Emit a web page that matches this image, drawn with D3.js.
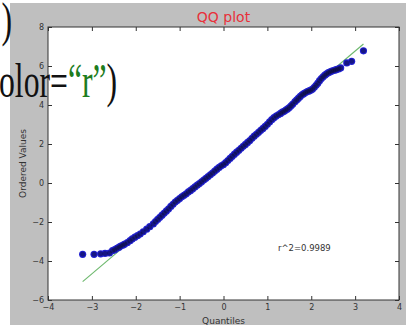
<!DOCTYPE html>
<html>
<head>
<meta charset="utf-8">
<script src="https://cdn.jsdelivr.net/npm/d3@7"></script>
<style>
  html, body { margin: 0; padding: 0; background: #fff; }
  svg { display: block; }
</style>
</head>
<body>
<svg id="chart" width="406" height="325"></svg>
<script>
// ---- data ----
const title = "QQ plot";
const xLabel = "Quantiles";
const yLabel = "Ordered Values";
const rSquaredText = "r^2=0.9989";
const rSquaredPos = [1.24, -3.5];

const xTicks = [-4, -3, -2, -1, 0, 1, 2, 3, 4];
const yTicks = [-6, -4, -2, 0, 2, 4, 6, 8];

// theoretical quantiles (x) and ordered sample values (y)
const quantiles = [
  -3.21, -2.95, -2.80, -2.70, -2.60, -2.53, -2.48, -2.43, -2.38, -2.34,
  -2.29, -2.25, -2.19, -2.13, -2.08, -2.02, -1.96, -1.90, -1.83, -1.75,
  -1.68, -1.60, -1.55, -1.50, -1.45, -1.40, -1.35, -1.30, -1.25, -1.20,
  -1.15, -1.10, -1.05, -1.00, -0.95, -0.90, -0.85, -0.80, -0.75, -0.70,
  -0.65, -0.60, -0.55, -0.50, -0.45, -0.40, -0.35, -0.30, -0.25, -0.20,
  -0.15, -0.10, -0.05, 0.00, 0.05, 0.10, 0.15, 0.20, 0.25, 0.30,
  0.35, 0.40, 0.45, 0.50, 0.55, 0.60, 0.65, 0.70, 0.75, 0.80,
  0.85, 0.90, 0.95, 1.00, 1.05, 1.10, 1.15, 1.20, 1.25, 1.30,
  1.34, 1.38, 1.42, 1.46, 1.50, 1.54, 1.58, 1.63, 1.67, 1.71,
  1.75, 1.79, 1.83, 1.87, 1.91, 1.95, 1.99, 2.03, 2.07, 2.11,
  2.15, 2.19, 2.23, 2.27, 2.31, 2.35, 2.39, 2.43, 2.47, 2.51,
  2.55, 2.59, 2.63, 2.67, 2.81, 2.92, 3.19
];
const orderedValues = [
  -3.66, -3.66, -3.63, -3.61, -3.59, -3.47, -3.42, -3.35, -3.29, -3.23,
  -3.18, -3.13, -3.05, -2.96, -2.87, -2.78, -2.70, -2.62, -2.50, -2.37,
  -2.24, -2.10, -1.98, -1.87, -1.76, -1.65, -1.54, -1.43, -1.32, -1.20,
  -1.09, -0.98, -0.89, -0.80, -0.71, -0.63, -0.55, -0.46, -0.38, -0.29,
  -0.20, -0.11, -0.03, 0.06, 0.15, 0.24, 0.33, 0.42, 0.51, 0.61,
  0.71, 0.80, 0.88, 0.95, 1.04, 1.15, 1.26, 1.37, 1.48, 1.58,
  1.68, 1.78, 1.88, 1.98, 2.08, 2.18, 2.29, 2.40, 2.50, 2.60,
  2.70, 2.80, 2.90, 3.01, 3.13, 3.25, 3.35, 3.43, 3.50, 3.57,
  3.63, 3.68, 3.74, 3.80, 3.87, 3.96, 4.05, 4.17, 4.26, 4.35,
  4.44, 4.52, 4.58, 4.64, 4.69, 4.72, 4.76, 4.82, 4.91, 5.01,
  5.12, 5.25, 5.36, 5.45, 5.53, 5.60, 5.66, 5.70, 5.74, 5.77,
  5.80, 5.83, 5.86, 5.90, 6.16, 6.24, 6.78
];

// least-squares fit line endpoints
const fitX = [-3.21, 3.19];
const fitY = [-5.06, 7.13];

// ---- drawing ----
const svg = d3.select("#chart");
const W = 406, H = 325;

// gray figure background (screenshot frame)
svg.append("rect").attr("x", 10).attr("y", 3).attr("width", W - 10).attr("height", H - 3)
  .attr("fill", "#bfbfbf");

const plot = { left: 48, right: 399, top: 27, bottom: 300 };
const x = d3.scaleLinear().domain([-4, 4]).range([plot.left, plot.right]);
const y = d3.scaleLinear().domain([-6, 8]).range([plot.bottom, plot.top]);

svg.append("rect").attr("x", plot.left).attr("y", plot.top)
  .attr("width", plot.right - plot.left).attr("height", plot.bottom - plot.top)
  .attr("fill", "#fff");

const tickFont = "'DejaVu Sans', sans-serif";

function styleAxis(g, showLabels) {
  g.selectAll(".domain").remove();
  g.selectAll(".tick line").attr("stroke", "#333").attr("stroke-width", 1);
  g.selectAll(".tick text").attr("fill", "#333").attr("font-size", 8)
    .attr("font-family", tickFont);
  if (!showLabels) g.selectAll(".tick text").remove();
}

svg.append("g").attr("transform", `translate(0,${plot.bottom})`)
  .call(d3.axisBottom(x).tickValues(xTicks).tickSizeInner(-4).tickSizeOuter(0).tickPadding(4))
  .call(g => styleAxis(g, true));
svg.append("g").attr("transform", `translate(0,${plot.top})`)
  .call(d3.axisTop(x).tickValues(xTicks).tickSizeInner(-4).tickSizeOuter(0))
  .call(g => styleAxis(g, false));
svg.append("g").attr("transform", `translate(${plot.left},0)`)
  .call(d3.axisLeft(y).tickValues(yTicks).tickSizeInner(-4).tickSizeOuter(0).tickPadding(4))
  .call(g => styleAxis(g, true));
svg.append("g").attr("transform", `translate(${plot.right},0)`)
  .call(d3.axisRight(y).tickValues(yTicks).tickSizeInner(-4).tickSizeOuter(0))
  .call(g => styleAxis(g, false));

// fit line (under the markers)
svg.append("line")
  .attr("x1", x(fitX[0])).attr("y1", y(fitY[0]))
  .attr("x2", x(fitX[1])).attr("y2", y(fitY[1]))
  .attr("stroke", "#6cb86c").attr("stroke-width", 1.1);

// points: blue markers, with dark cores where they pile up
const pts = quantiles.map((q, i) => ({ q, v: orderedValues[i] }));
svg.append("g").selectAll("circle").data(pts).join("circle")
  .attr("cx", d => x(d.q)).attr("cy", d => y(d.v)).attr("r", 3.6)
  .attr("fill", "#2020d0");
svg.append("g").selectAll("circle").data(pts).join("circle")
  .attr("cx", d => x(d.q)).attr("cy", d => y(d.v)).attr("r", 2.5)
  .attr("fill", "#0a0c28").attr("fill-opacity", 0.45);

// frame
svg.append("rect").attr("x", plot.left).attr("y", plot.top)
  .attr("width", plot.right - plot.left).attr("height", plot.bottom - plot.top)
  .attr("fill", "none").attr("stroke", "#333").attr("stroke-width", 1);

// r^2 annotation
svg.append("text").attr("x", x(rSquaredPos[0])).attr("y", y(rSquaredPos[1]))
  .attr("font-family", tickFont).attr("font-size", 8.5).attr("fill", "#333")
  .text(rSquaredText);

// title and axis labels
svg.append("text").attr("x", (plot.left + plot.right) / 2).attr("y", 22)
  .attr("text-anchor", "middle").attr("font-family", tickFont).attr("font-size", 14)
  .attr("fill", "#e8303a").text(title);
svg.append("text").attr("x", (plot.left + plot.right) / 2).attr("y", 324)
  .attr("text-anchor", "middle").attr("font-family", tickFont).attr("font-size", 9)
  .attr("fill", "#333").text(xLabel);
svg.append("text")
  .attr("transform", `translate(26,${(plot.top + plot.bottom) / 2}) rotate(-90)`)
  .attr("text-anchor", "middle").attr("font-family", tickFont).attr("font-size", 9)
  .attr("fill", "#333").text(yLabel);

// slide text overlapping the screenshot
const serif = "'Liberation Serif', 'Times New Roman', serif";
svg.append("text").attr("transform", "translate(12,36) scale(0.66,1)")
  .attr("text-anchor", "end").attr("font-family", serif).attr("font-size", 48)
  .attr("fill", "#111").text(")");
const t = svg.append("text").attr("transform", "translate(-1,97) scale(0.66,1)")
  .attr("font-family", serif).attr("font-size", 48).attr("fill", "#111");
t.append("tspan").text("olor=");
t.append("tspan").attr("fill", "#1e7d1e").text("\u201Cr\u201D");
t.append("tspan").text(")");
</script>
</body>
</html>
